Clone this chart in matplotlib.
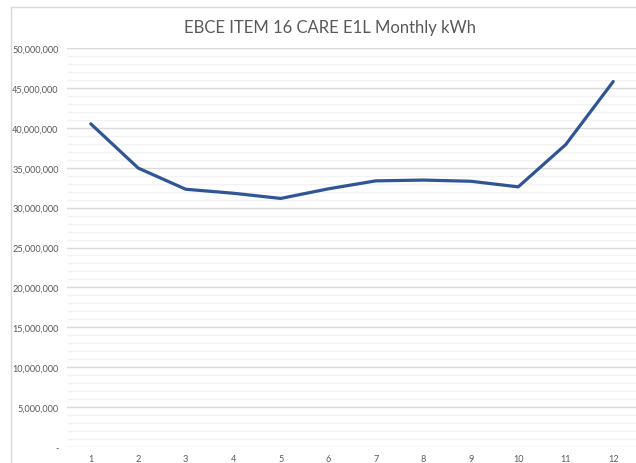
import numpy as np
import matplotlib.pyplot as plt
from matplotlib.ticker import FuncFormatter, MultipleLocator
from matplotlib.lines import Line2D

plt.rcParams['font.family'] = ['Lato', 'DejaVu Sans']

# monthly kWh
months = [1, 2, 3, 4, 5, 6, 7, 8, 9, 10, 11, 12]
kwh = [40.5e6, 34.95e6, 32.3e6, 31.8e6, 31.15e6, 32.35e6,
       33.35e6, 33.45e6, 33.3e6, 32.6e6, 37.9e6, 45.8e6]

fig = plt.figure(figsize=(6.36, 4.64), dpi=100)
ax = fig.add_axes([67 / 636, 1 - 448 / 464, 570 / 636, 399 / 464])

ax.plot(months, kwh, color='#2F5597', lw=2.3, solid_capstyle='round', zorder=3)

ax.set_xlim(0.5, 12.5)
ax.set_ylim(0, 50e6)
ax.set_xticks(months)
ax.yaxis.set_major_locator(MultipleLocator(5e6))
ax.yaxis.set_minor_locator(MultipleLocator(1e6))
ax.yaxis.set_major_formatter(FuncFormatter(lambda v, p: '-' if v == 0 else f'{int(v):,}'))

ax.grid(axis='y', which='major', color='#D9D9D9', lw=1.0)
ax.grid(axis='y', which='minor', color='#F2F2F2', lw=1.0)
ax.set_axisbelow(True)
for s in ax.spines.values():
    s.set_visible(False)
ax.tick_params(axis='both', which='both', length=0, labelsize=6.6, labelcolor='#595959')
ax.tick_params(axis='y', pad=6)
ax.tick_params(axis='x', pad=5)

fig.text(330 / 636, 1 - 28 / 464, 'EBCE ITEM 16 CARE E1L Monthly kWh',
         ha='center', va='center', fontsize=12, color='#595959')

# chart frame (cropped on right and bottom)
fig.add_artist(Line2D([11 / 636, 11 / 636], [0, 1 - 8 / 464], color='#D9D9D9', lw=1))
fig.add_artist(Line2D([11 / 636, 1], [1 - 8 / 464, 1 - 8 / 464], color='#D9D9D9', lw=1))

fig.savefig('out.png', dpi=100)
